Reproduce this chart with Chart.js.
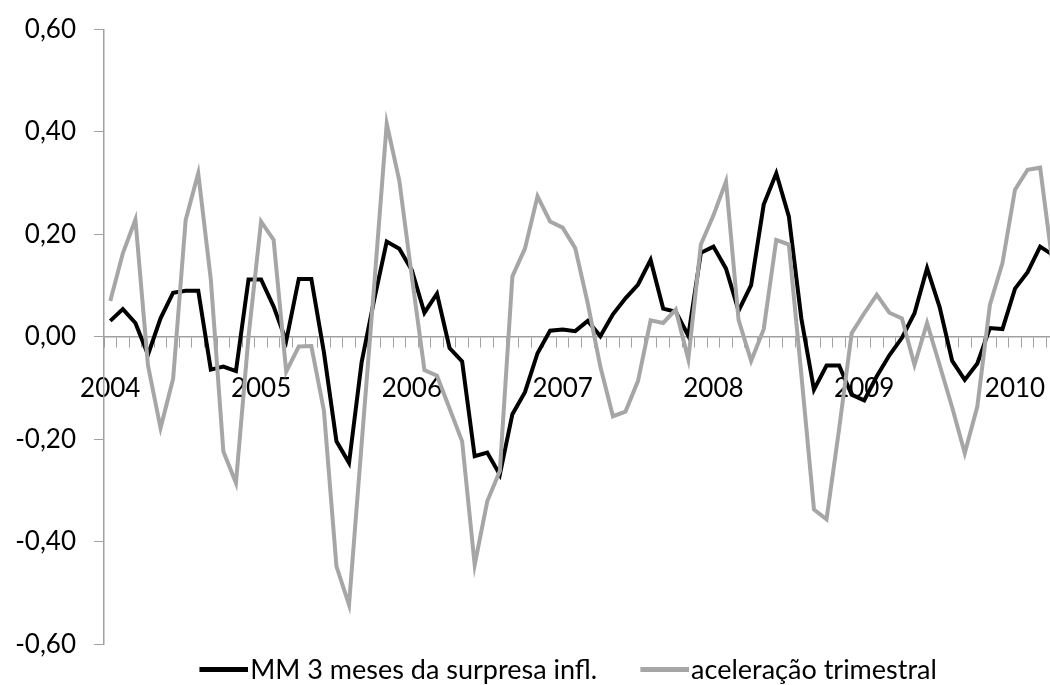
<!DOCTYPE html>
<html><head><meta charset="utf-8">
<script src="https://cdn.jsdelivr.net/npm/chart.js@4.4.0/dist/chart.umd.min.js"></script>
<style>
html,body{margin:0;padding:0;background:#fff;overflow:hidden;width:1050px;height:685px}
#wrap{width:1062px;height:685px;position:relative}
</style>
</head><body><div id="wrap"><canvas id="c" width="1062" height="685"></canvas></div>
<script>
// Monthly categories, Jan 2004 .. Apr 2010
const categories = [
 '2004-01','2004-02','2004-03','2004-04','2004-05','2004-06','2004-07','2004-08','2004-09','2004-10','2004-11','2004-12',
 '2005-01','2005-02','2005-03','2005-04','2005-05','2005-06','2005-07','2005-08','2005-09','2005-10','2005-11','2005-12',
 '2006-01','2006-02','2006-03','2006-04','2006-05','2006-06','2006-07','2006-08','2006-09','2006-10','2006-11','2006-12',
 '2007-01','2007-02','2007-03','2007-04','2007-05','2007-06','2007-07','2007-08','2007-09','2007-10','2007-11','2007-12',
 '2008-01','2008-02','2008-03','2008-04','2008-05','2008-06','2008-07','2008-08','2008-09','2008-10','2008-11','2008-12',
 '2009-01','2009-02','2009-03','2009-04','2009-05','2009-06','2009-07','2009-08','2009-09','2009-10','2009-11','2009-12',
 '2010-01','2010-02','2010-03','2010-04'
];

// MM 3 meses da surpresa infl.
const mmSurpresa = [
 0.031, 0.054, 0.027,-0.035, 0.036, 0.086, 0.090, 0.090,-0.064,-0.058,-0.067, 0.112,
 0.112, 0.059,-0.008, 0.113, 0.113,-0.030,-0.204,-0.246,-0.050, 0.072, 0.186, 0.172,
 0.130, 0.047, 0.084,-0.022,-0.048,-0.233,-0.226,-0.269,-0.151,-0.108,-0.032, 0.012,
 0.014, 0.011, 0.031, 0.001, 0.044, 0.075, 0.102, 0.150, 0.055, 0.049, 0.002, 0.164,
 0.176, 0.133, 0.051, 0.101, 0.258, 0.319, 0.235, 0.035,-0.103,-0.056,-0.056,-0.113,
-0.124,-0.077,-0.036,-0.002, 0.046, 0.134, 0.058,-0.047,-0.084,-0.052, 0.017, 0.015,
 0.094, 0.126, 0.176, 0.160
];

// aceleração trimestral
const aceleracao = [
 0.070, 0.163, 0.229,-0.056,-0.178,-0.082, 0.228, 0.319, 0.112,-0.224,-0.285, 0.000,
 0.225, 0.189,-0.068,-0.019,-0.018,-0.144,-0.448,-0.523,-0.210, 0.100, 0.416, 0.305,
 0.117,-0.065,-0.076,-0.140,-0.204,-0.445,-0.321,-0.262, 0.118, 0.172, 0.274, 0.225,
 0.213, 0.173, 0.065,-0.058,-0.155,-0.146,-0.086, 0.032, 0.027, 0.053,-0.044, 0.180,
 0.237, 0.303, 0.033,-0.047, 0.015, 0.189, 0.180,-0.075,-0.337,-0.356,-0.180, 0.007,
 0.046, 0.082, 0.047, 0.036,-0.055, 0.027,-0.055,-0.138,-0.227,-0.136, 0.062, 0.144,
 0.287, 0.326, 0.330, 0.140
];

const yTicks = [-0.6,-0.4,-0.2,0,0.2,0.4,0.6];
const seriesNames = ['MM 3 meses da surpresa infl.','aceleração trimestral'];
const seriesColors = ['#000000','#a6a6a6'];

const FONT = 'Lato, "Open Sans", sans-serif';
const AXIS_GREY = '#a0a0a0';

function fmt(v){
  if (Math.abs(v) < 1e-9) return '0,00';
  return v.toFixed(2).replace('.', ',');
}

// legend swatch: a short thick line, drawn at the right part of the swatch box
function swatch(color){
  const c = document.createElement('canvas');
  c.width = 92; c.height = 5;
  const g = c.getContext('2d');
  g.fillStyle = color;
  g.fillRect(43, 0, 49, 5);
  return c;
}

// shift the (centred) legend to the right, as in the original layout
const legendShift = {
  id: 'legendShift',
  afterLayout(chart) { const lg = chart.legend; if (lg) { lg.left += 23; lg.right += 23; } }
};

new Chart(document.getElementById('c'), {
  type: 'line',
  data: {
    labels: categories,
    datasets: [
      { label: seriesNames[0], data: mmSurpresa, borderColor: seriesColors[0], backgroundColor: seriesColors[0],
        borderWidth: 4, pointRadius: 0, tension: 0, fill: false, order: 1 },
      { label: seriesNames[1], data: aceleracao, borderColor: seriesColors[1], backgroundColor: seriesColors[1],
        borderWidth: 4, pointRadius: 0, tension: 0, fill: false, order: 0 }
    ]
  },
  plugins: [legendShift],
  options: {
    responsive: false,
    animation: false,
    layout: { padding: { top: 29.3, right: 3, left: 0, bottom: -8.3 } },
    plugins: {
      tooltip: { enabled: false },
      legend: {
        position: 'bottom',
        fullSize: true,
        labels: {
          font: { family: FONT, size: 27 },
          color: '#000',
          usePointStyle: true,
          pointStyleWidth: 68.5,
          boxHeight: 5,
          padding: 12,
          generateLabels(chart) {
            return chart.data.datasets.map((d, i) => ({
              text: d.label, fillStyle: d.borderColor, strokeStyle: d.borderColor,
              pointStyle: swatch(d.borderColor),
              lineWidth: 0, datasetIndex: i, hidden: false, fontColor: '#000'
            }));
          }
        }
      }
    },
    scales: {
      x: {
        type: 'category',
        position: { y: 0 },
        offset: true,
        afterFit: s => { s.paddingLeft = 0; s.paddingRight = 0; s.paddingTop = 0; s.paddingBottom = 0; },
        grid: { offset: true, drawOnChartArea: false, drawTicks: true, tickLength: 10, color: AXIS_GREY, lineWidth: 1 },
        border: { color: AXIS_GREY, width: 1.5 },
        ticks: {
          autoSkip: false, maxRotation: 0, minRotation: 0, padding: 26,
          font: { family: FONT, size: 26 }, color: '#000',
          callback: function(v, i) {
            const c = categories[i];
            return c.endsWith('-01') ? c.slice(0, 4) : '';
          }
        }
      },
      y: {
        min: -0.6, max: 0.6,
        afterBuildTicks: s => { s.ticks = yTicks.map(v => ({ value: v })); },
        afterFit: s => { s.width = 104; s.paddingTop = 0; s.paddingBottom = 0; },
        grid: { drawOnChartArea: false, drawTicks: true, tickLength: 10, color: AXIS_GREY, lineWidth: 1 },
        border: { color: AXIS_GREY, width: 1.5 },
        ticks: {
          padding: 18, font: { family: FONT, size: 26 }, color: '#000',
          callback: v => fmt(v)
        }
      }
    }
  }
});
</script>
</body></html>
